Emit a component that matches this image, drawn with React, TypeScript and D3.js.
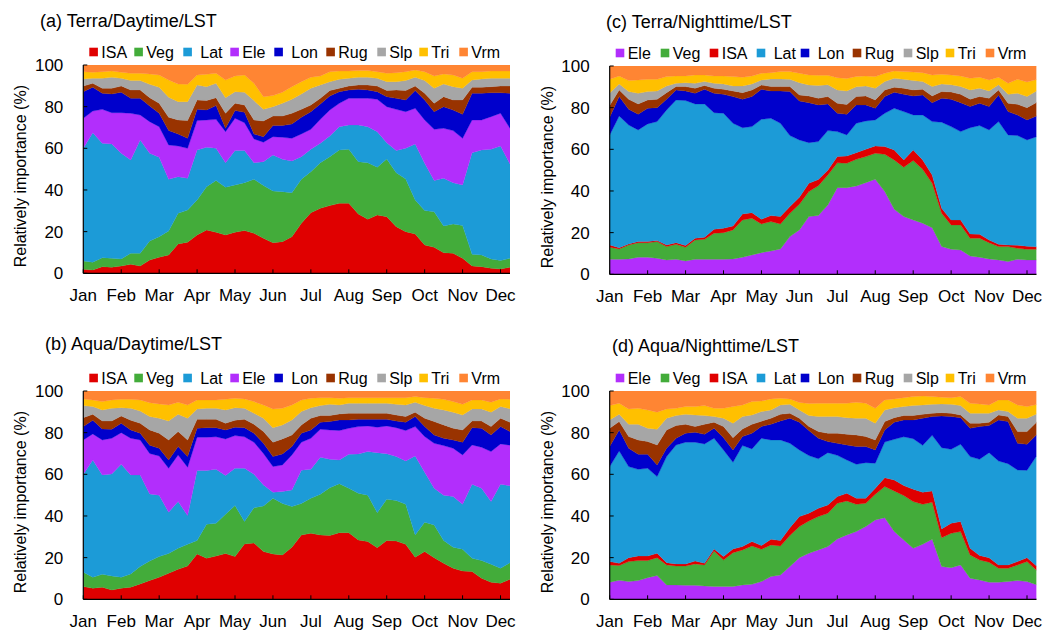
import * as d3 from 'd3';

// month labels sit on every 4th of the 46 eight-day composites
const months = ['Jan', 'Feb', 'Mar', 'Apr', 'May', 'Jun', 'Jul', 'Aug', 'Sep', 'Oct', 'Nov', 'Dec'];
const yTicks = [0, 20, 40, 60, 80, 100];

// (a) Terra / Daytime
const aISA = [1.9,1.6,3.2,2.9,3.5,4.3,3.5,6.4,7.7,8.8,14.1,14.9,18.4,20.8,19.7,18.4,19.7,20.5,19.2,16.8,14.7,15.2,17.6,24,29.1,31.2,32.5,33.6,33.6,28.5,25.9,28,27.2,22.4,20,18.9,13.6,12.5,9.9,9.6,7.2,3.5,3.2,2.4,2.1,2.9];
const aVeg = [4,3.7,4.3,4.3,3.4,5.3,6.1,9.1,9.9,11.5,14.7,15.5,16.8,20.8,24.8,22.9,22.7,23,25.9,25.3,24.8,24,21.1,21.1,19.7,21.9,23.5,25.6,25.9,25.1,27.2,22.9,27.7,25.9,25.3,16.3,16.5,17.1,12.8,14.1,15.7,5.6,5.6,4.5,4,4.3];
const aLat = [54.1,62.2,54.9,54.9,50.7,44.8,54.4,42.1,38.1,24.8,17.6,15.2,24,18.9,15.5,11.8,16.5,15.4,8,11.5,17.3,15.5,15.2,10.9,10.7,9.3,9.9,11.2,11.7,17.6,17.3,17.1,7.8,10.6,14.7,26.9,22.7,14.9,22.9,19.8,19.5,48.8,50.4,52.6,55,45.3];
const aEle = [14.4,10.4,16.3,15,19.5,22.4,12,15.2,14.7,16.5,14.7,14.4,14.1,13.1,13.9,14.9,15.5,13.4,11.4,9.3,8.8,10.6,10.9,10.9,9.6,11.5,12.5,11.2,12.8,12.8,13.6,15.5,17.3,19.8,17.6,17.1,20.8,24.6,24,25,22.4,15.7,14.4,15.7,15.7,17.1];
const aLon = [12.8,11.4,7.7,9,9.8,7.2,8,7.5,6.4,6.9,5.8,4.8,5.4,4.8,6.6,1.6,3.7,5,2.4,2.7,5.3,5.6,6.9,8,8.5,7.4,6.7,5.6,4,4.3,4,3.7,4.8,5.3,5.6,8.5,9.6,8.5,10.4,9.9,11.5,12.8,12.8,11.5,9.9,16.8];
const aRug = [2.7,1.9,2.4,2.7,3,4,4,4,4.8,6.4,6.7,8.5,4.5,4.5,3.8,7.2,3.5,3.5,6.7,7.5,4.6,4.6,5.1,3.8,3.2,2.7,2.6,1.6,1.9,2.1,2.4,2.7,2.9,4,4.5,2.2,3.2,4,4.8,4.8,6.9,2.9,2.9,2.9,3.2,3.5];
const aSlp = [3.4,2.4,4.8,5.3,3.7,4.5,4.5,6.4,7.7,9.6,8.8,9.1,7.2,6.7,6.9,7.5,5.6,6.1,9.3,5.6,4.5,6.1,6.7,7.4,8,6.4,4.3,4.3,3.7,3.7,3.7,3.7,4.3,4,4.8,4.2,6.1,7.2,6.1,6.4,5.6,3.5,4,4,3.7,3.7];
const aTri = [3.5,2.9,3.2,3,2.9,3.5,3.5,5,5.9,8.3,8.5,8.3,4.8,5.9,4.8,8.5,7.5,8.3,8.3,6.1,5.3,5.3,6.1,5.9,5.3,4.3,4.8,4,3.5,3.2,3.2,3.2,4,4.3,4.3,3.5,4.3,5.9,4.8,5.6,4.8,4,3.5,3.5,3.5,3.5];
const aVrm = [3.2,3.5,3.2,2.9,3.5,4,4,4.3,4.8,7.2,9.1,9.3,4.8,4.5,4,7.2,5.3,4.8,8.8,15.2,14.7,13.1,10.4,8,5.9,5.3,3.2,2.9,2.9,2.7,2.7,3.2,4,3.7,3.2,2.4,3.2,5.3,4.3,4.8,6.4,3.2,3.2,2.9,2.9,2.9];

// (b) Aqua / Daytime
const bISA = [6.1,5.3,5.8,4.5,5.3,5.8,7.4,9,10.6,12.5,14.4,16,21.8,19.7,20.8,22,20.5,26.6,27,22.9,21.8,21.3,25,30.9,31.7,30.9,30.6,32,32,28.5,27.7,24.8,28.2,28,26.4,20.2,22.9,20,17.3,14.9,13.6,13.3,10.1,8.2,7.7,9.6];
const bVeg = [6.9,5.3,6.2,6.7,5.3,6.4,8.3,9.4,9.9,9.5,10.1,10.4,6.4,16.3,15.7,18.8,24.5,10.7,17,21.9,26.7,24.7,19.5,15.1,16.8,19.5,23,23.5,21.3,22.4,22.3,16.8,19.8,19.4,19.2,10.7,14.1,15.7,10.9,10.1,10.4,6.4,8.5,8.6,7.2,8];
const bLat = [47,56.3,47.7,49,54.2,47.5,44,32.2,29.5,19.8,22.4,13.8,33.6,25.8,25.9,18.6,17.9,25.6,16,10.1,2.9,5.7,8,16,13.9,17.8,13.6,11.4,16.3,18.9,20.9,28.8,21.9,21.1,20.8,37.9,24,17.6,21.8,24.3,21.6,35.5,34.7,30.1,40.3,36.9];
const bEle = [16.5,12.5,16.8,17.1,15.2,17.6,16.8,19.4,18.8,21.1,22.4,23.2,16,16,15.6,17.6,15.7,15.1,15.4,15.1,12.3,12.8,16.8,13.4,14.9,13.4,14.1,14.1,12.5,13.1,12.3,12.2,13.3,13.9,14.6,14.1,17.1,21.6,23.8,23.2,23.7,18.9,19.7,24,19.4,19.5];
const bLon = [6.4,6.6,5.3,4.3,4.5,4,3.2,4,3.7,4,4,5.1,4.3,4.6,4.4,4.3,4,4.4,4.3,4.9,4.8,5.3,4,4.3,4,3.4,4,5.1,4,3.5,3.2,3.8,3.2,3.2,4,4.8,4.8,4,3.5,4,6.1,8.3,9.1,8,8.3,6.5];
const bRug = [4.3,2.8,3.8,4,3.5,4.7,4.8,7.3,7.2,9.6,7.2,8,4.3,4,4,3.2,3.4,4,4.3,5.6,6.9,7.2,5.6,4,5.6,3.2,2.9,2.9,3.2,2.9,2.9,2.9,2.9,2.9,2.7,2.1,4,6.4,6.4,5.6,5.9,3.2,3.5,4,4,4.5];
const bSlp = [5.8,3.7,5.3,6.1,4,5.7,5.9,6.4,7.2,9.1,8.3,10.4,5,5.3,5.3,6.4,6,5.3,5.3,6.4,7,6.7,7.2,6.4,5.1,4.8,5.4,4.3,4.8,4.8,4.8,4.8,4.8,5.1,5.6,4.8,6.1,6.4,7.2,7.7,7.2,5.8,5.8,6.9,5.6,6.5];
const bTri = [3.2,3.2,4,4,4,4.3,5.3,6.7,6.9,7.7,5.8,6.4,4.3,4,4,5.1,4.5,4.5,5.6,6.4,9,8,7.2,5.6,4.5,3.8,3.2,3.2,2.7,2.7,2.7,2.7,2.7,3.2,3.5,2.7,3.8,4.8,5.1,5.1,5.1,4.3,4.3,4.8,3.7,4.5];
const bVrm = [3.8,4.3,5.1,4.3,4,4,4.3,5.6,6.2,6.7,5.4,6.7,4.3,4.3,4.3,4,3.5,3.8,5.1,6.7,8.6,8.3,6.7,4.3,3.5,3.2,3.2,3.5,3.2,3.2,3.2,3.2,3.2,3.2,3.2,2.7,3.2,3.5,4,5.1,6.4,4.3,4.3,5.4,3.8,4];

// (c) Terra / Nighttime
const cEle = [7.2,7.2,7.4,8.2,8.2,7.7,6.9,7.2,6.4,7.2,7.2,7.2,7.2,7.4,8.2,9.3,10.4,11.2,12.2,18.1,21.3,27.7,28.2,33.3,41.6,41.6,42.4,44,45.6,39.7,31.2,27.7,26.1,24.5,22.4,13.3,12,11.7,8.8,8.2,7.4,6.9,6.1,7.2,6.9,6.9];
const cVeg = [5.8,5,6.7,7,7,8,6.4,7.2,6.6,9.3,9.6,12.5,12.8,13.9,17.9,17.6,13.8,14.1,12,11.2,12.3,12,14.3,14.4,11.9,11.7,12.8,12.5,12.5,17.9,23.7,23.7,28.5,25.9,21.3,16,11.7,12,8.5,9.1,7.8,6.4,7.2,5.3,5.1,5.1];
const cISA = [1.1,0.6,0.5,0.5,0.5,0.5,0.8,0.8,0.8,0.8,1,1.9,2.1,1.9,2.9,2.7,2.2,2.9,3.5,3.2,3.4,4,3,2.3,3,3.5,3.2,3.5,3.5,3.7,4.8,3.5,5.1,4.5,4,2.4,2.4,2.4,2.1,1.9,1.3,1.1,0.8,1.5,1.5,1.2];
const cLat = [52.8,63.2,57.1,53.6,56.5,57.1,64.8,68.5,69.6,64.5,64,56,55.2,49.3,41.4,41.3,48,46.7,44.8,34.1,27.5,19.5,18.2,19,12,10.1,14.1,13.6,12.5,16,20,23.2,16.8,21.6,25.6,41.3,44.8,42.4,51,52.2,52.8,58.9,52.8,52.6,51,52.8];
const cLon = [8.5,9.3,7.5,7.5,7.5,6.7,5.1,4.8,4.6,5.1,7,9.3,9.1,12.8,13.6,14.4,14.4,13.1,15.5,21.1,18.7,19.2,17.6,12.8,8.8,9.9,8.8,7.7,5.6,8,7.7,8.3,9.1,9.6,9.1,11.5,13.1,13.9,10.1,10.7,11.2,12.8,11.2,9.9,9.6,10];
const cRug = [5.6,3.2,4.8,5,4,4,3.2,1.6,2.1,2.4,1.8,2.4,2.4,2.7,3.2,3.2,2.1,2.1,2.1,2.4,2.9,3.2,3.2,3.5,4.8,4.7,4,4.3,4,3.2,2.4,2.9,2.9,2.7,3.2,3.2,3.5,4,3.5,3.2,4,2.4,4,5.1,5.9,6.5];
const cSlp = [6,2.9,3.7,5.1,4,4,3.2,1.6,1.9,2.4,1.9,2.4,2.6,2.4,3.2,2.9,2.4,3.7,3.7,3.5,5.9,5.3,6.1,5.7,6.4,6.5,4.7,4.8,5.6,4,4.3,4.3,4.5,3.7,4.5,3.7,3.5,3.7,4.5,4,3.5,2.5,4.3,5.3,5.3,5.5];
const cTri = [6.6,3.8,5.3,6.4,5.9,5.6,4.5,3.5,3.2,4,3.2,3.5,3.8,4.5,4.2,3.8,3.2,3,3.5,3.7,4.5,4.8,4.9,4.5,5.9,6,5,4.8,5.6,4,3.5,3.7,4.1,4.3,5.6,4.6,4.7,5.1,5.6,5.3,5.3,3.6,5.3,6.7,7,5.5];
const cVrm = [6.4,4.8,7,6.7,6.4,6.4,5.1,4.8,4.8,4.3,4.3,4.8,4.8,5.1,5.4,4.8,3.5,3.2,2.7,2.7,3.5,4.3,4.5,4.5,5.6,6,5,4.8,5.1,3.5,2.4,2.7,2.9,3.2,4.3,4,4.3,4.8,5.9,5.4,6.7,5.4,8.3,6.4,7.7,6.5];

// (d) Aqua / Nighttime
const dEle = [8.2,9.1,8.5,9,10.4,11.4,6.9,6.9,6.7,6.7,6.4,6.2,6.2,6.2,6.9,7.2,8.5,10.9,11.7,15.7,20,22.1,23.7,25.3,29,30.9,32.5,34.9,38.1,39.2,32.5,28.5,24.5,26.4,28.8,15.7,15.2,16.5,10.1,9.3,8.2,8.2,8.5,9,8.5,7];
const dVeg = [8.3,7.1,9.6,9.6,8.2,8.6,9.6,9.1,9.3,10.3,10.1,17,12.7,16.2,16.8,18.4,15.5,15.2,13.9,14.9,14.9,15.5,16,16,17.1,16.3,13.1,11.2,12.3,14.9,19.5,21.3,22.4,19.2,17.8,13.9,16.5,16,11.2,9.6,9.6,6.7,6.4,7.5,9.6,7];
const dISA = [1.6,1.1,1.9,2.2,2.2,2.1,1.1,1,1,1.4,0.8,1,1.6,1.8,1.6,2.1,1.8,2.7,2.6,3.8,4.8,3.7,4,4,3.2,3.7,2.9,2.4,2.9,4.3,5.3,4.8,5.9,5.8,5.4,4.2,4.8,4.8,3.2,2.1,2.2,1.6,1.6,1.6,1.9,2];
const dLat = [45.6,53.9,43.7,41.6,42.1,36.8,50.9,57.1,58.4,57,57.3,53.1,51.2,41.6,48.5,44.5,51.5,47.7,48.3,40.5,32,27.7,23.8,25.1,19.8,16,16.3,17.1,12,17.1,19.5,23.4,24.3,22.5,26.7,39,35.5,37.1,44,46.2,50.4,49.9,48.6,44,41.9,52.8];
const dLon = [9.6,10.1,8.8,7.2,6.7,5.6,4,3.2,4.3,4.8,4.6,4.8,5.9,5.9,4.3,7.5,5.7,7.5,9.1,12,13.3,12,9.8,5.3,5.8,7.2,8.5,7.7,6.4,5.8,8.2,8.1,9,13,9,15.2,15.7,12.8,13.6,15.7,13,19.7,20.2,12.8,12.5,10.2];
const dRug = [8.8,4,5.6,6.9,6.1,9.6,8.8,6.1,4.3,2.7,4.8,2.9,5.3,5.9,3.7,4.3,2.5,2.9,3.2,2.4,1.9,2,3.2,4,4.8,5.1,5.6,4.8,4.8,4,2.2,2.1,2.1,1.9,1.6,1.6,1.6,1.3,2.4,1.6,1.6,2.4,2.4,5.6,6.1,6];
const dSlp = [4,3.5,5.9,7.5,6.4,7.5,5.6,4.8,4.8,5.6,4.2,2.7,4,6.9,5.9,4.5,4.6,4,4.5,4.3,4,5.2,7.2,8,8,8,8,8.8,8,5.6,4.8,4.3,4.8,4.5,4.3,4.2,4.3,4.5,4.8,4.8,4.3,2.4,2.4,6.4,6.4,4];
const dTri = [6.9,5.3,7.4,7.7,8.8,8.2,4.5,3.5,3.7,4,4.8,4,4.8,8,5.6,6.4,5.1,5.3,3.2,2.6,3.6,5.8,6.4,6.4,6.4,6.9,7.7,7.2,7.2,4.8,4.2,4.3,4.3,4.3,3.7,3.2,3.2,4.3,4.8,4.5,4,4.8,5.6,6.4,5.6,4.5];
const dVrm = [7,5.9,8.6,8.3,9.1,10.2,8.6,8.3,7.5,7.5,7,8.3,8.3,7.5,6.7,5.1,4.8,3.8,3.5,3.8,5.5,6,5.9,5.9,5.9,5.9,5.4,5.9,8.3,4.3,3.8,3.2,2.7,2.4,2.7,3,3.2,2.7,5.9,6.2,6.7,4.3,4.3,6.7,7.5,6.5];

const dayOrder = ['ISA', 'Veg', 'Lat', 'Ele', 'Lon', 'Rug', 'Slp', 'Tri', 'Vrm'];
const nightOrder = ['Ele', 'Veg', 'ISA', 'Lat', 'Lon', 'Rug', 'Slp', 'Tri', 'Vrm'];

const colors: Record<string, string> = {
  ISA: '#E00000',
  Veg: '#43AC3A',
  Lat: '#1C9BD7',
  Ele: '#B22EFC',
  Lon: '#0000CC',
  Rug: '#993300',
  Slp: '#A6A6A6',
  Tri: '#FFC000',
  Vrm: '#FF8533',
};

const FONT = '"Liberation Sans", Arial, sans-serif';

// legend slots as Excel laid them out (offset from plot left)
const legendSlots = [6, 51, 100, 147, 191, 243, 294, 336, 376];

interface PanelSpec {
  title: string;
  order: string[];
  series: Record<string, number[]>;
  left: number;
  right: number;
  top: number;
  bottom: number;
  titleX: number;
  titleY: number;
}

const panels: PanelSpec[] = [
  {
    title: '(a) Terra/Daytime/LST',
    order: dayOrder,
    series: { ISA: aISA, Veg: aVeg, Lat: aLat, Ele: aEle, Lon: aLon, Rug: aRug, Slp: aSlp, Tri: aTri, Vrm: aVrm },
    left: 83.3, right: 510, top: 65, bottom: 273.3, titleX: 40, titleY: 27,
  },
  {
    title: '(c) Terra/Nighttime/LST',
    order: nightOrder,
    series: { Ele: cEle, Veg: cVeg, ISA: cISA, Lat: cLat, Lon: cLon, Rug: cRug, Slp: cSlp, Tri: cTri, Vrm: cVrm },
    left: 609.7, right: 1036.5, top: 66, bottom: 274.3, titleX: 606, titleY: 28,
  },
  {
    title: '(b) Aqua/Daytime/LST',
    order: dayOrder,
    series: { ISA: bISA, Veg: bVeg, Lat: bLat, Ele: bEle, Lon: bLon, Rug: bRug, Slp: bSlp, Tri: bTri, Vrm: bVrm },
    left: 83.3, right: 510, top: 391, bottom: 599.3, titleX: 45, titleY: 350,
  },
  {
    title: '(d) Aqua/Nighttime/LST',
    order: nightOrder,
    series: { Ele: dEle, Veg: dVeg, ISA: dISA, Lat: dLat, Lon: dLon, Rug: dRug, Slp: dSlp, Tri: dTri, Vrm: dVrm },
    left: 609.7, right: 1036.5, top: 391, bottom: 599.3, titleX: 612, titleY: 352,
  },
];

function Panel({ p }: { p: PanelSpec }) {
  const n = p.series[p.order[0]].length;
  const x = d3.scaleLinear().domain([0, n - 1]).range([p.left, p.right]);
  const y = d3.scaleLinear().domain([0, 100]).range([p.bottom, p.top]);

  const rows = d3.range(n).map((i) => {
    const r: Record<string, number> = {};
    p.order.forEach((k) => (r[k] = p.series[k][i]));
    return r;
  });
  const stacked = d3.stack<Record<string, number>>().keys(p.order)(rows);

  const area = d3
    .area<d3.SeriesPoint<Record<string, number>>>()
    .x((_, i) => x(i))
    .y0((d) => y(d[0]))
    .y1((d) => y(d[1]));

  const clipId = `clip-${p.title.charAt(1)}`;
  const legendY = p.top - 13;

  return (
    <g fontFamily={FONT}>
      <text x={p.titleX} y={p.titleY} fontSize={18} fill="#000">
        {p.title}
      </text>

      {/* legend */}
      {p.order.map((k, i) => {
        const sx = p.left + legendSlots[i];
        const pad = k === 'Lat' || k === 'Lon' ? 17 : 12;
        return (
          <g key={k}>
            <rect x={sx} y={legendY - 4.3} width={8.6} height={8.6} fill={colors[k]} />
            <text x={sx + pad} y={legendY + 5.6} fontSize={16} fill="#000">
              {k}
            </text>
          </g>
        );
      })}

      <defs>
        <clipPath id={clipId}>
          <rect x={p.left} y={p.top} width={p.right - p.left} height={p.bottom - p.top} />
        </clipPath>
      </defs>
      <g clipPath={`url(#${clipId})`}>
        {stacked.map((s) => (
          <path key={s.key} d={area(s) || ''} fill={colors[s.key]} stroke={colors[s.key]} strokeWidth={0.3} />
        ))}
      </g>

      {/* axes */}
      <line x1={p.left} x2={p.left} y1={p.top} y2={p.bottom} stroke="#000" strokeWidth={1.2} />
      <line x1={p.left} x2={p.right} y1={p.bottom} y2={p.bottom} stroke="#000" strokeWidth={1.2} />
      {yTicks.map((t) => (
        <g key={t}>
          <line x1={p.left} x2={p.left + 4} y1={y(t)} y2={y(t)} stroke="#000" strokeWidth={1} />
          <text x={p.left - 20} y={y(t)} dy="0.35em" textAnchor="end" fontSize={17} fill="#000">
            {t}
          </text>
        </g>
      ))}
      {months.map((m, i) => {
        const tx = x(i * 4);
        return (
          <g key={m}>
            <line x1={tx} x2={tx} y1={p.bottom} y2={p.bottom - 4} stroke="#000" strokeWidth={1} />
            <text x={tx} y={p.bottom + 27.5} textAnchor="middle" fontSize={17} fill="#000">
              {m}
            </text>
          </g>
        );
      })}
      <text
        transform={`translate(${p.left - 57},${(p.top + p.bottom) / 2 + 7}) rotate(-90)`}
        textAnchor="middle"
        fontSize={16}
        fill="#000"
      >
        Relatively importance (%)
      </text>
    </g>
  );
}

export default function App() {
  return (
    <svg
      width={1058}
      height={632}
      style={{ position: 'absolute', left: 0, top: 0, background: '#fff' }}
    >
      {panels.map((p) => (
        <Panel key={p.title} p={p} />
      ))}
    </svg>
  );
}
